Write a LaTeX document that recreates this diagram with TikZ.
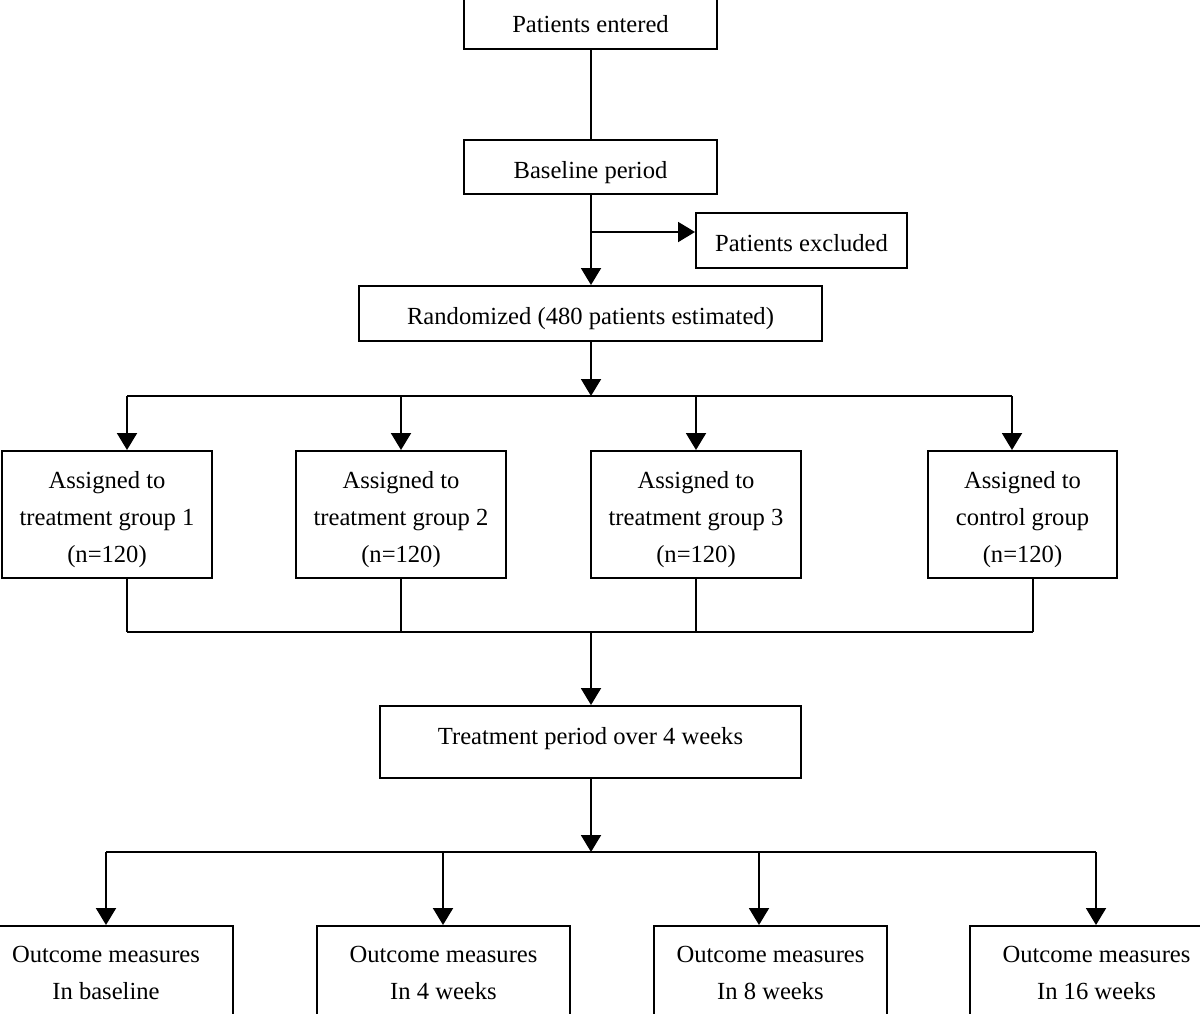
\documentclass[tikz,border=0pt]{standalone}
\usepackage{fontspec}
\setmainfont{Liberation Serif}
\usetikzlibrary{arrows.meta,calc}
\newcommand{\topstrut}{\rule{0pt}{14pt}}
\newcommand{\botstrut}{\rule[-3pt]{0pt}{3pt}}
\begin{document}
\begin{tikzpicture}[x=0.5pt,y=-0.5pt,
  every path/.style={line width=1pt},
  box/.style={draw,line width=1pt,align=center,inner sep=0pt,
    font=\fontsize{12.3}{18.5}\selectfont},
  sbox/.style={box,execute at begin node=\topstrut,execute at end node=\botstrut},
  arr/.style={-{Triangle[length=8.5pt,width=10pt]}}]
\useasboundingbox (0,0) rectangle (1200,1013);

\node[sbox,minimum width=126.5pt,minimum height=27.5pt] (entered) at (590.5,21) {Patients entered};
\node[sbox,minimum width=126.5pt,minimum height=27pt] (baseline) at (590.5,167) {Baseline period};
\node[sbox,minimum width=105.5pt,minimum height=27.5pt] (excluded) at (801.5,240.5) {Patients excluded};
\node[sbox,minimum width=231.5pt,minimum height=27.5pt] (random) at (590.5,313.5) {Randomized (480 patients estimated)};

\node[box,minimum width=105pt,minimum height=63.5pt] (g1) at (107,514.5) {\topstrut Assigned to\\treatment group 1\\(n=120)\botstrut};
\node[box,minimum width=105pt,minimum height=63.5pt] (g2) at (401,514.5) {\topstrut Assigned to\\treatment group 2\\(n=120)\botstrut};
\node[box,minimum width=105pt,minimum height=63.5pt] (g3) at (696,514.5) {\topstrut Assigned to\\treatment group 3\\(n=120)\botstrut};
\node[box,minimum width=94.5pt,minimum height=63.5pt] (g4) at (1022.5,514.5) {\topstrut Assigned to\\control group\\(n=120)\botstrut};

\node[sbox,minimum width=210.5pt,minimum height=36pt,text depth=12pt] (treat) at (590.5,742) {Treatment period over 4 weeks};

\node[box,minimum width=126.5pt,minimum height=46.5pt] (o1) at (106,972.5) {Outcome measures\\In baseline};
\node[box,minimum width=126.5pt,minimum height=46.5pt] (o2) at (443.5,972.5) {Outcome measures\\In 4 weeks};
\node[box,minimum width=116.5pt,minimum height=46.5pt] (o3) at (770.5,972.5) {Outcome measures\\In 8 weeks};
\node[box,minimum width=126.5pt,minimum height=46.5pt] (o4) at (1096.5,972.5) {Outcome measures\\In 16 weeks};

\coordinate (ex) at (591,232);
\coordinate (b1) at (591,396);
\coordinate (b2) at (591,632);
\coordinate (b3) at (591,852);
\coordinate (t1) at (127,396);
\coordinate (t2) at (401,396);
\coordinate (t3) at (696,396);
\coordinate (t4) at (1012,396);
\coordinate (u1) at (127,632);
\coordinate (u2) at (401,632);
\coordinate (u3) at (696,632);
\coordinate (u4) at (1033,632);
\coordinate (v1) at (106,852);
\coordinate (v2) at (443,852);
\coordinate (v3) at (759,852);
\coordinate (v4) at (1096,852);

\draw (entered.south -| ex) -- (baseline.north -| ex);
\draw[arr] (baseline.south -| ex) -- (random.north -| ex);
\draw[arr] (ex) -- (ex -| excluded.west);
\draw[arr] (random.south -| b1) -- (b1);
\draw (t1) -- (t4);
\foreach \i in {1,2,3,4} {\draw[arr] (t\i) -- (t\i |- g\i.north);}
\foreach \i in {1,2,3,4} {\draw (g\i.south -| u\i) -- (u\i);}
\draw (u1) -- (u4);
\draw[arr] (b2) -- (b2 |- treat.north);
\draw[arr] (treat.south -| b3) -- (b3);
\draw (v1) -- (v4);
\foreach \i in {1,2,3,4} {\draw[arr] (v\i) -- (v\i |- o\i.north);}
\end{tikzpicture}
\end{document}
